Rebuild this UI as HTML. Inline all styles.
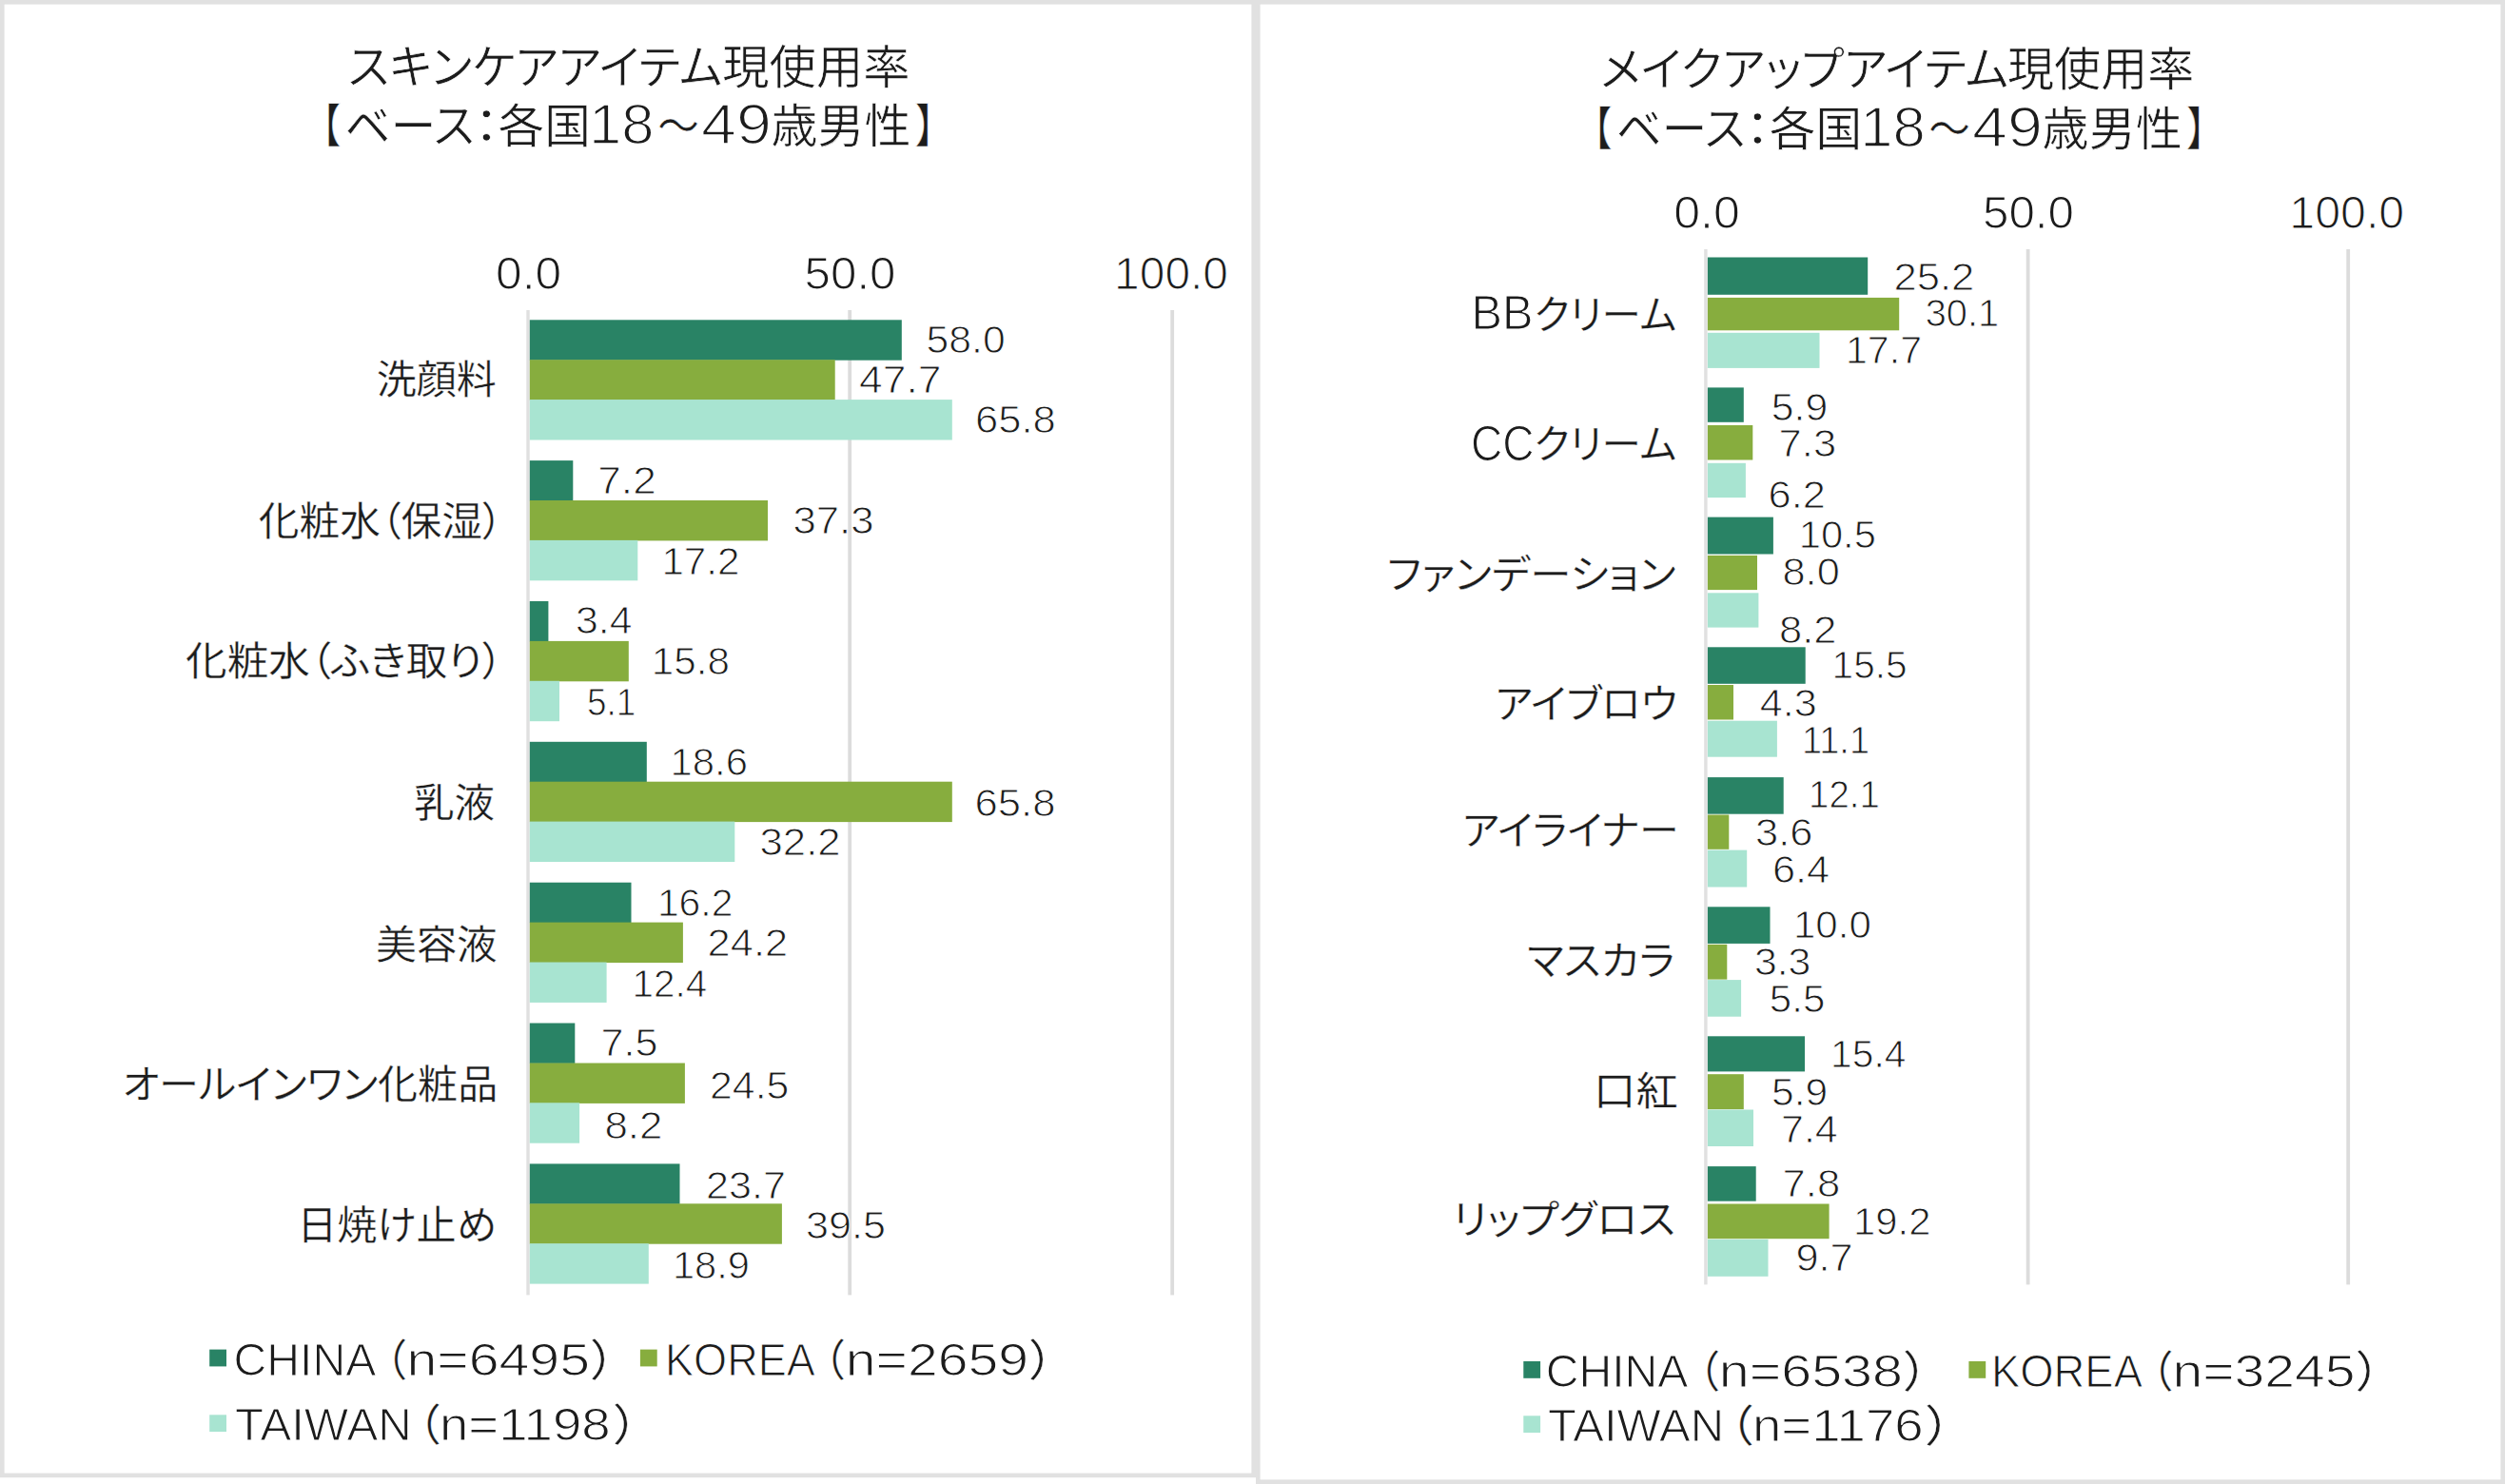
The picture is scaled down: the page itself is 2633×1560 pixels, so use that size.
<!DOCTYPE html>
<html lang="ja"><head><meta charset="utf-8"><title>スキンケア・メイクアップアイテム現使用率</title>
<style>
html,body{margin:0;padding:0;background:#fff}
body{width:2633px;height:1560px;overflow:hidden}
svg{display:block}
text{font-family:"Liberation Sans","Noto Sans CJK JP",sans-serif;fill:#1c1c1c;font-feature-settings:"palt";font-kerning:normal;stroke:#fff;stroke-linejoin:round}
</style></head><body>
<svg width="2633" height="1560" viewBox="0 0 2633 1560" role="img" aria-label="スキンケア・メイクアップアイテム現使用率">
<rect x="2.3" y="2.3" width="1315.4" height="1548.6000000000001" fill="#fff" stroke="#e1e1e1" stroke-width="4.6"/>
<rect x="1322.3" y="2.3" width="1308.4" height="1555.4" fill="#fff" stroke="#e1e1e1" stroke-width="4.6"/>
<rect x="553.3" y="326.0" width="3.4" height="1035.4" fill="#e0e0e0"/>
<rect x="891.3" y="326.0" width="3.8" height="1035.4" fill="#dcdcdc"/>
<rect x="1230.3" y="326.0" width="3.8" height="1035.4" fill="#dcdcdc"/>
<rect x="556.8" y="336.3" width="391.0" height="42.4" fill="#298365"/>
<rect x="556.8" y="378.2" width="320.9" height="42.4" fill="#87ad3e"/>
<rect x="556.8" y="420.1" width="444.0" height="42.4" fill="#a8e4d1"/>
<rect x="556.8" y="484.1" width="45.5" height="42.4" fill="#298365"/>
<rect x="556.8" y="526.0" width="250.2" height="42.4" fill="#87ad3e"/>
<rect x="556.8" y="567.9" width="113.5" height="42.4" fill="#a8e4d1"/>
<rect x="556.8" y="632.0" width="19.6" height="42.4" fill="#298365"/>
<rect x="556.8" y="673.9" width="104.0" height="42.4" fill="#87ad3e"/>
<rect x="556.8" y="715.8" width="31.2" height="42.4" fill="#a8e4d1"/>
<rect x="556.8" y="779.8" width="123.0" height="42.4" fill="#298365"/>
<rect x="556.8" y="821.7" width="444.0" height="42.4" fill="#87ad3e"/>
<rect x="556.8" y="863.6" width="215.5" height="42.4" fill="#a8e4d1"/>
<rect x="556.8" y="927.7" width="106.7" height="42.4" fill="#298365"/>
<rect x="556.8" y="969.6" width="161.1" height="42.4" fill="#87ad3e"/>
<rect x="556.8" y="1011.5" width="80.8" height="42.4" fill="#a8e4d1"/>
<rect x="556.8" y="1075.5" width="47.5" height="42.4" fill="#298365"/>
<rect x="556.8" y="1117.5" width="163.1" height="42.4" fill="#87ad3e"/>
<rect x="556.8" y="1159.3" width="52.3" height="42.4" fill="#a8e4d1"/>
<rect x="556.8" y="1223.4" width="157.7" height="42.4" fill="#298365"/>
<rect x="556.8" y="1265.3" width="265.1" height="42.4" fill="#87ad3e"/>
<rect x="556.8" y="1307.2" width="125.0" height="42.4" fill="#a8e4d1"/>
<rect x="1791.2" y="262.0" width="3.4" height="1088.4" fill="#e0e0e0"/>
<rect x="2129.7" y="262.0" width="3.8" height="1088.4" fill="#dcdcdc"/>
<rect x="2466.3" y="262.0" width="3.8" height="1088.4" fill="#dcdcdc"/>
<rect x="1794.9" y="270.5" width="168.3" height="39.3" fill="#298365"/>
<rect x="1794.9" y="312.9" width="201.3" height="34.4" fill="#87ad3e"/>
<rect x="1794.9" y="349.8" width="117.6" height="37.1" fill="#a8e4d1"/>
<rect x="1794.9" y="407.4" width="37.9" height="36.4" fill="#298365"/>
<rect x="1794.9" y="447.0" width="47.4" height="36.5" fill="#87ad3e"/>
<rect x="1794.9" y="486.8" width="40.0" height="36.3" fill="#a8e4d1"/>
<rect x="1794.9" y="543.6" width="69.0" height="38.9" fill="#298365"/>
<rect x="1794.9" y="583.9" width="52.1" height="36.2" fill="#87ad3e"/>
<rect x="1794.9" y="623.3" width="53.5" height="36.3" fill="#a8e4d1"/>
<rect x="1794.9" y="680.3" width="102.8" height="38.5" fill="#298365"/>
<rect x="1794.9" y="720.0" width="27.1" height="36.5" fill="#87ad3e"/>
<rect x="1794.9" y="757.7" width="73.0" height="38.0" fill="#a8e4d1"/>
<rect x="1794.9" y="817.1" width="79.8" height="38.6" fill="#298365"/>
<rect x="1794.9" y="856.5" width="22.4" height="36.3" fill="#87ad3e"/>
<rect x="1794.9" y="893.6" width="41.3" height="38.9" fill="#a8e4d1"/>
<rect x="1794.9" y="953.3" width="65.6" height="38.6" fill="#298365"/>
<rect x="1794.9" y="992.8" width="20.4" height="36.8" fill="#87ad3e"/>
<rect x="1794.9" y="1030.1" width="35.2" height="38.6" fill="#a8e4d1"/>
<rect x="1794.9" y="1089.3" width="102.1" height="37.1" fill="#298365"/>
<rect x="1794.9" y="1129.2" width="37.9" height="36.9" fill="#87ad3e"/>
<rect x="1794.9" y="1166.5" width="48.1" height="38.5" fill="#a8e4d1"/>
<rect x="1794.9" y="1226.1" width="50.8" height="36.6" fill="#298365"/>
<rect x="1794.9" y="1265.5" width="127.7" height="36.7" fill="#87ad3e"/>
<rect x="1794.9" y="1302.8" width="63.6" height="39.0" fill="#a8e4d1"/>
<rect x="220.2" y="1418.6" width="17.8" height="17.8" fill="#298365"/>
<rect x="672.9" y="1418.6" width="17.8" height="17.8" fill="#87ad3e"/>
<rect x="220.2" y="1487.3" width="17.8" height="17.8" fill="#a8e4d1"/>
<rect x="1601.3" y="1431.0" width="17.8" height="17.8" fill="#298365"/>
<rect x="2069.4" y="1431.0" width="17.8" height="17.8" fill="#87ad3e"/>
<rect x="1601.3" y="1488.3" width="17.8" height="17.8" fill="#a8e4d1"/>
<text font-size="49.00"><tspan x="365.6" textLength="393.7" lengthAdjust="spacingAndGlyphs" y="88.3" stroke-width="0.60">スキンケアアイテム</tspan><tspan x="759.3" textLength="197.3" lengthAdjust="spacingAndGlyphs" y="88.3" stroke-width="0.60">現使用率</tspan></text>
<text font-size="49.00"><tspan x="337.9" textLength="20.0" lengthAdjust="spacingAndGlyphs" y="150.4" stroke-width="0.60">【</tspan><tspan x="362.1" textLength="136.6" lengthAdjust="spacingAndGlyphs" y="150.4" stroke-width="0.60">ベース</tspan><tspan x="498.0" textLength="26.6" lengthAdjust="spacingAndGlyphs" y="150.4" stroke-width="0.60">：</tspan><tspan x="523.6" textLength="97.4" lengthAdjust="spacingAndGlyphs" y="150.4" stroke-width="0.60">各国</tspan><tspan x="619.1" textLength="68.5" lengthAdjust="spacingAndGlyphs" font-size="59.40" y="151.3" stroke-width="1.60">18</tspan><tspan x="690.9" textLength="44.1" lengthAdjust="spacingAndGlyphs" y="150.4" stroke-width="0.60">～</tspan><tspan x="737.0" textLength="73.9" lengthAdjust="spacingAndGlyphs" font-size="59.40" y="151.3" stroke-width="1.60">49</tspan><tspan x="810.5" textLength="147.2" lengthAdjust="spacingAndGlyphs" y="150.4" stroke-width="0.60">歳男性</tspan><tspan x="962.3" textLength="20.7" lengthAdjust="spacingAndGlyphs" y="150.4" stroke-width="0.60">】</tspan></text>
<text font-size="49.00"><tspan x="1682.1" textLength="429.0" lengthAdjust="spacingAndGlyphs" y="89.9" stroke-width="0.60">メイクアップアイテム</tspan><tspan x="2109.9" textLength="196.5" lengthAdjust="spacingAndGlyphs" y="89.9" stroke-width="0.60">現使用率</tspan></text>
<text font-size="49.00"><tspan x="1674.0" textLength="20.0" lengthAdjust="spacingAndGlyphs" y="152.7" stroke-width="0.60">【</tspan><tspan x="1698.2" textLength="136.6" lengthAdjust="spacingAndGlyphs" y="152.7" stroke-width="0.60">ベース</tspan><tspan x="1834.1" textLength="26.6" lengthAdjust="spacingAndGlyphs" y="152.7" stroke-width="0.60">：</tspan><tspan x="1859.7" textLength="97.4" lengthAdjust="spacingAndGlyphs" y="152.7" stroke-width="0.60">各国</tspan><tspan x="1955.2" textLength="68.5" lengthAdjust="spacingAndGlyphs" font-size="59.40" y="153.5" stroke-width="1.60">18</tspan><tspan x="2027.0" textLength="44.1" lengthAdjust="spacingAndGlyphs" y="152.7" stroke-width="0.60">～</tspan><tspan x="2073.1" textLength="73.9" lengthAdjust="spacingAndGlyphs" font-size="59.40" y="153.5" stroke-width="1.60">49</tspan><tspan x="2146.6" textLength="147.2" lengthAdjust="spacingAndGlyphs" y="152.7" stroke-width="0.60">歳男性</tspan><tspan x="2298.4" textLength="20.7" lengthAdjust="spacingAndGlyphs" y="152.7" stroke-width="0.60">】</tspan></text>
<text font-size="48.04"><tspan x="521.1" textLength="69.0" lengthAdjust="spacingAndGlyphs" y="304.1" stroke-width="1.11">0.0</tspan></text>
<text font-size="48.04"><tspan x="845.6" textLength="95.9" lengthAdjust="spacingAndGlyphs" y="304.1" stroke-width="1.11">50.0</tspan></text>
<text font-size="48.04"><tspan x="1171.1" textLength="119.9" lengthAdjust="spacingAndGlyphs" y="304.1" stroke-width="1.11">100.0</tspan></text>
<text font-size="47.31"><tspan x="1759.2" textLength="69.6" lengthAdjust="spacingAndGlyphs" y="240.1" stroke-width="1.09">0.0</tspan></text>
<text font-size="47.31"><tspan x="2084.0" textLength="96.0" lengthAdjust="spacingAndGlyphs" y="240.1" stroke-width="1.09">50.0</tspan></text>
<text font-size="47.31"><tspan x="2406.3" textLength="120.9" lengthAdjust="spacingAndGlyphs" y="240.1" stroke-width="1.09">100.0</tspan></text>
<text font-size="42.50"><tspan x="395.7" textLength="126.2" lengthAdjust="spacingAndGlyphs" y="413.9" stroke-width="0.35">洗顔料</tspan></text>
<text font-size="42.50"><tspan x="271.8" textLength="256.7" lengthAdjust="spacingAndGlyphs" y="562.9" stroke-width="0.35">化粧水（保湿）</tspan></text>
<text font-size="42.50"><tspan x="195.0" textLength="333.6" lengthAdjust="spacingAndGlyphs" y="710.3" stroke-width="0.35">化粧水（ふき取り）</tspan></text>
<text font-size="42.50"><tspan x="435.2" textLength="84.7" lengthAdjust="spacingAndGlyphs" y="858.5" stroke-width="0.35">乳液</tspan></text>
<text font-size="42.50"><tspan x="395.2" textLength="127.4" lengthAdjust="spacingAndGlyphs" y="1008.3" stroke-width="0.35">美容液</tspan></text>
<text font-size="42.50"><tspan x="128.6" textLength="394.6" lengthAdjust="spacingAndGlyphs" y="1155.2" stroke-width="0.35">オールインワン化粧品</tspan></text>
<text font-size="42.50"><tspan x="312.2" textLength="209.5" lengthAdjust="spacingAndGlyphs" y="1303.2" stroke-width="0.35">日焼け止め</tspan></text>
<text font-size="42.50"><tspan x="1457.7" textLength="303.8" lengthAdjust="spacingAndGlyphs" y="619.1" stroke-width="0.35">ファンデーション</tspan></text>
<text font-size="42.50"><tspan x="1571.5" textLength="191.4" lengthAdjust="spacingAndGlyphs" y="754.7" stroke-width="0.35">アイブロウ</tspan></text>
<text font-size="42.50"><tspan x="1537.1" textLength="227.6" lengthAdjust="spacingAndGlyphs" y="888.3" stroke-width="0.35">アイライナー</tspan></text>
<text font-size="42.50"><tspan x="1604.9" textLength="155.6" lengthAdjust="spacingAndGlyphs" y="1025.3" stroke-width="0.35">マスカラ</tspan></text>
<text font-size="42.50"><tspan x="1675.1" textLength="88.7" lengthAdjust="spacingAndGlyphs" y="1162.1" stroke-width="0.35">口紅</tspan></text>
<text font-size="42.50"><tspan x="1526.9" textLength="234.2" lengthAdjust="spacingAndGlyphs" y="1297.0" stroke-width="0.35">リップグロス</tspan></text>
<text font-size="42.50"><tspan x="1546.4" textLength="65.0" lengthAdjust="spacingAndGlyphs" font-size="49.78" y="346.2" stroke-width="1.15">BB</tspan><tspan x="1612.5" textLength="149.9" lengthAdjust="spacingAndGlyphs" y="345.6" stroke-width="0.35">クリーム</tspan></text>
<text font-size="42.50"><tspan x="1545.9" textLength="66.6" lengthAdjust="spacingAndGlyphs" font-size="51.39" y="483.6" stroke-width="1.19">CC</tspan><tspan x="1612.5" textLength="149.9" lengthAdjust="spacingAndGlyphs" y="481.9" stroke-width="0.35">クリーム</tspan></text>
<text font-size="40.47"><tspan x="973.6" textLength="83.1" lengthAdjust="spacingAndGlyphs" y="371.3" stroke-width="0.93">58.0</tspan></text>
<text font-size="40.47"><tspan x="903.1" textLength="86.4" lengthAdjust="spacingAndGlyphs" y="412.7" stroke-width="0.93">47.7</tspan></text>
<text font-size="40.47"><tspan x="1025.0" textLength="84.7" lengthAdjust="spacingAndGlyphs" y="454.7" stroke-width="0.93">65.8</tspan></text>
<text font-size="40.47"><tspan x="628.3" textLength="61.4" lengthAdjust="spacingAndGlyphs" y="518.5" stroke-width="0.93">7.2</tspan></text>
<text font-size="40.47"><tspan x="833.4" textLength="85.1" lengthAdjust="spacingAndGlyphs" y="560.5" stroke-width="0.93">37.3</tspan></text>
<text font-size="40.47"><tspan x="695.4" textLength="82.1" lengthAdjust="spacingAndGlyphs" y="604.2" stroke-width="0.93">17.2</tspan></text>
<text font-size="40.47"><tspan x="605.1" textLength="59.4" lengthAdjust="spacingAndGlyphs" y="665.9" stroke-width="0.93">3.4</tspan></text>
<text font-size="40.47"><tspan x="684.8" textLength="82.1" lengthAdjust="spacingAndGlyphs" y="709.4" stroke-width="0.93">15.8</tspan></text>
<text font-size="40.47"><tspan x="616.9" textLength="51.3" lengthAdjust="spacingAndGlyphs" y="752.0" stroke-width="0.93">5.1</tspan></text>
<text font-size="40.47"><tspan x="704.5" textLength="81.4" lengthAdjust="spacingAndGlyphs" y="815.2" stroke-width="0.93">18.6</tspan></text>
<text font-size="40.47"><tspan x="1024.6" textLength="84.9" lengthAdjust="spacingAndGlyphs" y="857.7" stroke-width="0.93">65.8</tspan></text>
<text font-size="40.47"><tspan x="798.5" textLength="85.1" lengthAdjust="spacingAndGlyphs" y="899.3" stroke-width="0.93">32.2</tspan></text>
<text font-size="40.47"><tspan x="690.9" textLength="79.5" lengthAdjust="spacingAndGlyphs" y="963.4" stroke-width="0.93">16.2</tspan></text>
<text font-size="40.47"><tspan x="743.6" textLength="84.5" lengthAdjust="spacingAndGlyphs" y="1005.4" stroke-width="0.93">24.2</tspan></text>
<text font-size="40.47"><tspan x="664.5" textLength="78.6" lengthAdjust="spacingAndGlyphs" y="1048.3" stroke-width="0.93">12.4</tspan></text>
<text font-size="40.47"><tspan x="631.4" textLength="60.0" lengthAdjust="spacingAndGlyphs" y="1110.4" stroke-width="0.93">7.5</tspan></text>
<text font-size="40.47"><tspan x="746.0" textLength="83.4" lengthAdjust="spacingAndGlyphs" y="1154.7" stroke-width="0.93">24.5</tspan></text>
<text font-size="40.47"><tspan x="635.4" textLength="61.0" lengthAdjust="spacingAndGlyphs" y="1196.8" stroke-width="0.93">8.2</tspan></text>
<text font-size="40.47"><tspan x="742.1" textLength="83.9" lengthAdjust="spacingAndGlyphs" y="1259.9" stroke-width="0.93">23.7</tspan></text>
<text font-size="40.47"><tspan x="847.1" textLength="83.9" lengthAdjust="spacingAndGlyphs" y="1302.3" stroke-width="0.93">39.5</tspan></text>
<text font-size="40.47"><tspan x="706.9" textLength="81.1" lengthAdjust="spacingAndGlyphs" y="1343.6" stroke-width="0.93">18.9</tspan></text>
<text font-size="40.47"><tspan x="1990.4" textLength="84.9" lengthAdjust="spacingAndGlyphs" y="305.3" stroke-width="0.93">25.2</tspan></text>
<text font-size="40.47"><tspan x="2023.7" textLength="77.4" lengthAdjust="spacingAndGlyphs" y="343.1" stroke-width="0.93">30.1</tspan></text>
<text font-size="40.47"><tspan x="1940.0" textLength="80.0" lengthAdjust="spacingAndGlyphs" y="381.9" stroke-width="0.93">17.7</tspan></text>
<text font-size="40.47"><tspan x="1861.8" textLength="59.4" lengthAdjust="spacingAndGlyphs" y="442.2" stroke-width="0.93">5.9</tspan></text>
<text font-size="40.47"><tspan x="1869.6" textLength="60.5" lengthAdjust="spacingAndGlyphs" y="479.9" stroke-width="0.93">7.3</tspan></text>
<text font-size="40.47"><tspan x="1858.6" textLength="60.3" lengthAdjust="spacingAndGlyphs" y="533.5" stroke-width="0.93">6.2</tspan></text>
<text font-size="40.47"><tspan x="1890.7" textLength="81.2" lengthAdjust="spacingAndGlyphs" y="575.9" stroke-width="0.93">10.5</tspan></text>
<text font-size="40.47"><tspan x="1873.5" textLength="60.3" lengthAdjust="spacingAndGlyphs" y="615.4" stroke-width="0.93">8.0</tspan></text>
<text font-size="40.47"><tspan x="1870.0" textLength="60.5" lengthAdjust="spacingAndGlyphs" y="675.9" stroke-width="0.93">8.2</tspan></text>
<text font-size="40.47"><tspan x="1925.6" textLength="79.0" lengthAdjust="spacingAndGlyphs" y="712.8" stroke-width="0.93">15.5</tspan></text>
<text font-size="40.47"><tspan x="1849.7" textLength="60.0" lengthAdjust="spacingAndGlyphs" y="753.1" stroke-width="0.93">4.3</tspan></text>
<text font-size="40.47"><tspan x="1893.9" textLength="71.2" lengthAdjust="spacingAndGlyphs" y="791.9" stroke-width="0.93">11.1</tspan></text>
<text font-size="40.47"><tspan x="1901.1" textLength="74.8" lengthAdjust="spacingAndGlyphs" y="849.0" stroke-width="0.93">12.1</tspan></text>
<text font-size="40.47"><tspan x="1845.0" textLength="60.4" lengthAdjust="spacingAndGlyphs" y="888.7" stroke-width="0.93">3.6</tspan></text>
<text font-size="40.47"><tspan x="1862.9" textLength="60.3" lengthAdjust="spacingAndGlyphs" y="928.3" stroke-width="0.93">6.4</tspan></text>
<text font-size="40.47"><tspan x="1884.9" textLength="82.0" lengthAdjust="spacingAndGlyphs" y="985.6" stroke-width="0.93">10.0</tspan></text>
<text font-size="40.47"><tspan x="1843.9" textLength="59.5" lengthAdjust="spacingAndGlyphs" y="1025.0" stroke-width="0.93">3.3</tspan></text>
<text font-size="40.47"><tspan x="1859.8" textLength="58.5" lengthAdjust="spacingAndGlyphs" y="1064.1" stroke-width="0.93">5.5</tspan></text>
<text font-size="40.47"><tspan x="1924.1" textLength="79.3" lengthAdjust="spacingAndGlyphs" y="1121.5" stroke-width="0.93">15.4</tspan></text>
<text font-size="40.47"><tspan x="1862.1" textLength="59.1" lengthAdjust="spacingAndGlyphs" y="1161.6" stroke-width="0.93">5.9</tspan></text>
<text font-size="40.47"><tspan x="1872.0" textLength="59.8" lengthAdjust="spacingAndGlyphs" y="1200.5" stroke-width="0.93">7.4</tspan></text>
<text font-size="40.47"><tspan x="1873.6" textLength="60.6" lengthAdjust="spacingAndGlyphs" y="1257.8" stroke-width="0.93">7.8</tspan></text>
<text font-size="40.47"><tspan x="1948.0" textLength="81.4" lengthAdjust="spacingAndGlyphs" y="1297.9" stroke-width="0.93">19.2</tspan></text>
<text font-size="40.47"><tspan x="1887.4" textLength="60.3" lengthAdjust="spacingAndGlyphs" y="1335.5" stroke-width="0.93">9.7</tspan></text>
<text font-size="48.73"><tspan x="245.5" textLength="149.8" lengthAdjust="spacingAndGlyphs" y="1445.9" stroke-width="1.12">CHINA</tspan><tspan x="404.7" textLength="21.8" lengthAdjust="spacingAndGlyphs" font-size="46.00" y="1445.9" stroke-width="0.35">（</tspan><tspan x="427.5" textLength="192.5" lengthAdjust="spacingAndGlyphs" y="1445.9" stroke-width="1.12">n=6495</tspan><tspan x="621.7" textLength="25.3" lengthAdjust="spacingAndGlyphs" font-size="46.00" y="1445.9" stroke-width="0.35">）</tspan></text>
<text font-size="48.73"><tspan x="699.0" textLength="157.9" lengthAdjust="spacingAndGlyphs" y="1445.9" stroke-width="1.12">KOREA</tspan><tspan x="865.6" textLength="21.8" lengthAdjust="spacingAndGlyphs" font-size="46.00" y="1445.9" stroke-width="0.35">（</tspan><tspan x="888.8" textLength="192.1" lengthAdjust="spacingAndGlyphs" y="1445.9" stroke-width="1.12">n=2659</tspan><tspan x="1082.6" textLength="25.3" lengthAdjust="spacingAndGlyphs" font-size="46.00" y="1445.9" stroke-width="0.35">）</tspan></text>
<text font-size="48.73"><tspan x="247.0" textLength="185.8" lengthAdjust="spacingAndGlyphs" y="1514.1" stroke-width="1.12">TAIWAN</tspan><tspan x="438.8" textLength="23.4" lengthAdjust="spacingAndGlyphs" font-size="46.00" y="1514.1" stroke-width="0.35">（</tspan><tspan x="461.9" textLength="179.8" lengthAdjust="spacingAndGlyphs" y="1514.1" stroke-width="1.12">n=1198</tspan><tspan x="645.5" textLength="25.5" lengthAdjust="spacingAndGlyphs" font-size="46.00" y="1514.1" stroke-width="0.35">）</tspan></text>
<text font-size="48.73"><tspan x="1624.7" textLength="149.8" lengthAdjust="spacingAndGlyphs" y="1457.9" stroke-width="1.12">CHINA</tspan><tspan x="1784.7" textLength="21.8" lengthAdjust="spacingAndGlyphs" font-size="46.00" y="1457.9" stroke-width="0.35">（</tspan><tspan x="1806.8" textLength="193.2" lengthAdjust="spacingAndGlyphs" y="1457.9" stroke-width="1.12">n=6538</tspan><tspan x="2001.7" textLength="25.3" lengthAdjust="spacingAndGlyphs" font-size="46.00" y="1457.9" stroke-width="0.35">）</tspan></text>
<text font-size="48.73"><tspan x="2092.9" textLength="159.1" lengthAdjust="spacingAndGlyphs" y="1457.9" stroke-width="1.12">KOREA</tspan><tspan x="2261.0" textLength="21.8" lengthAdjust="spacingAndGlyphs" font-size="46.00" y="1457.9" stroke-width="0.35">（</tspan><tspan x="2283.5" textLength="192.1" lengthAdjust="spacingAndGlyphs" y="1457.9" stroke-width="1.12">n=3245</tspan><tspan x="2477.3" textLength="25.3" lengthAdjust="spacingAndGlyphs" font-size="46.00" y="1457.9" stroke-width="0.35">）</tspan></text>
<text font-size="48.73"><tspan x="1627.0" textLength="185.1" lengthAdjust="spacingAndGlyphs" y="1515.1" stroke-width="1.12">TAIWAN</tspan><tspan x="1817.5" textLength="24.7" lengthAdjust="spacingAndGlyphs" font-size="46.00" y="1515.1" stroke-width="0.35">（</tspan><tspan x="1841.9" textLength="179.8" lengthAdjust="spacingAndGlyphs" y="1515.1" stroke-width="1.12">n=1176</tspan><tspan x="2024.8" textLength="26.8" lengthAdjust="spacingAndGlyphs" font-size="46.00" y="1515.1" stroke-width="0.35">）</tspan></text>
</svg>
</body></html>
